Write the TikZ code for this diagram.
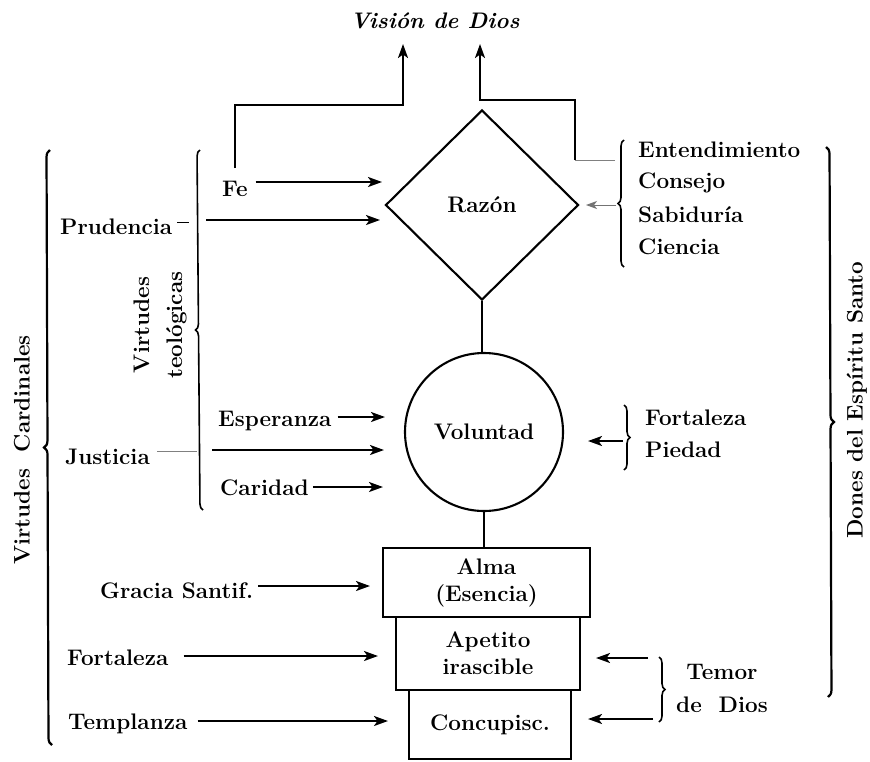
\documentclass[tikz,border=0pt]{standalone}
\usepackage{fontspec}
\usetikzlibrary{shapes.geometric,arrows.meta,decorations.pathreplacing,calc}
\begin{document}
\begin{tikzpicture}[x=1pt,y=-1pt,
  lbl/.style={font=\bfseries\fontsize{22.5}{33}\selectfont, inner sep=0pt, text=black},
  ln/.style={line width=2.1pt},
  arr/.style={line width=2.1pt, -{Stealth[length=14pt,width=10pt,inset=3.5pt]}},
  farr/.style={line width=0.9pt, black!55, -{Stealth[length=11pt,width=8pt,inset=3pt]}},
  faint/.style={line width=0.9pt, black!50},
  brc/.style={decorate, decoration={brace, amplitude=7pt}, line width=2.2pt},
  sbrc/.style={decorate, decoration={brace, amplitude=6pt}, line width=1.6pt},
  shp/.style={draw, line width=2.1pt, inner sep=0pt, font=\bfseries\fontsize{22.5}{27}\selectfont, align=center},
]
\useasboundingbox (0,0) rectangle (870,761);
\fill[white] (0,0) rectangle (870,761);

% title
\node[lbl] (vision) at (435,21) {\itshape Visión de Dios};

% central shapes
\node[shp, diamond, minimum width=193pt, minimum height=190pt] (razon) at (482,205) {Razón};
\node[shp, circle, minimum size=158pt] (vol) at (484,432) {Voluntad};
\node[shp, rectangle, minimum width=207pt, minimum height=69pt] (alma) at (486.5,582.5) {Alma\\(Esencia)};
\node[shp, rectangle, minimum width=184pt, minimum height=73pt] (ape) at (488,653.5) {Apetito\\irascible};
\node[shp, rectangle, minimum width=162pt, minimum height=69pt] (conc) at (490,724.5) {Concupisc.};

\draw[ln] (razon.south) -- (razon.south |- vol.north);
\draw[ln] (vol.south) -- (vol.south |- alma.north);

% top connectors
\coordinate (upL) at (403,44);
\coordinate (upR) at (480,44);
\coordinate (cl1) at (235,168);
\coordinate (cr1) at (615,160);
\coordinate (cr2) at (575,160);
\draw[arr] (cl1) -- (235,105) -- (403,105) -- (upL);
\draw[faint] (cr1) -- (cr2);
\draw[arr] (cr2) -- (575,100) -- (480,100) -- (upR);

% left texts
\node[lbl, anchor=west] (fe) at (222,189) {Fe};
\node[lbl, anchor=west] (pru) at (60,227) {Prudencia};
\node[lbl, anchor=west] (esp) at (218,421) {Esperanza};
\node[lbl, anchor=west] (jus) at (65,457) {Justicia};
\node[lbl, anchor=west] (car) at (220,488) {Caridad};
\node[lbl, anchor=west] (gra) at (100,591) {Gracia Santif.};
\node[lbl, anchor=west] (forl) at (67,658) {Fortaleza};
\node[lbl, anchor=west] (tem) at (68,724) {Templanza};

\node[lbl, rotate=90] (vcard) at (22,450) {Virtudes\ \ Cardinales};
\node[lbl, rotate=90, align=center] (vteo) at (160,325) {Virtudes\\teológicas};

% left braces
\draw[brc] (52,745) -- (50,150);
\draw[sbrc] (203,510) -- (200,150);

% left arrows
\coordinate (feE) at (382,182);
\draw[arr] (fe.east |- feE) ++(8,0) -- (feE);
\coordinate (pruS) at (206,220);
\coordinate (pruE) at (380,220);
\draw[line width=1pt] (pru.east |- pruE) ++(5,2) -- ++(12,0);
\draw[arr] (pruS) -- (pruE);
\coordinate (espE) at (385,417);
\draw[arr] (esp.east |- espE) ++(6,0) -- (espE);
\coordinate (jusS) at (212,450);
\coordinate (jusE) at (384,450);
\draw[faint] (jus.east |- jusE) ++(7,1) -- ++(40,0);
\draw[arr] (jusS) -- (jusE);
\coordinate (carE) at (383,487);
\draw[arr] (car.east |- carE) ++(4,0) -- (carE);
\coordinate (graE) at (370,586);
\draw[arr] (gra.east |- graE) ++(5,0) -- (graE);
\coordinate (forlE) at (378,656);
\draw[arr] (forl.east |- forlE) ++(15,0) -- (forlE);
\coordinate (temE) at (388,721);
\draw[arr] (tem.east |- temE) ++(10,0) -- (temE);

% right texts
\node[lbl, anchor=west] (ent) at (638,150) {Entendimiento};
\node[lbl, anchor=west] (cons) at (638,183) {Consejo};
\node[lbl, anchor=west] (sab) at (638,215) {Sabiduría};
\node[lbl, anchor=west] (cie) at (638,247) {Ciencia};
\node[lbl, anchor=west] (forr) at (645,418) {Fortaleza};
\node[lbl, anchor=west] (pie) at (645,450) {Piedad};
\node[lbl, align=center] (temor) at (722,688) {Temor\\de\ \ Dios};
\node[lbl, rotate=90] (dones) at (857,400) {Dones\ del\ Espíritu\ Santo};

% right braces
\draw[sbrc] (624,267) -- (624,140);
\draw[sbrc] (624,405) -- (624,470);
\draw[sbrc] (659,657) -- (659,722);
\draw[brc] (826,147) -- (828,697);

% right arrows
\coordinate (rzS) at (616,205);
\coordinate (rzE) at (586,205);
\draw[farr] (rzS) -- (rzE);
\coordinate (fpS) at (623,441);
\coordinate (fpE) at (588,441);
\draw[arr] (fpS) -- (fpE);
\coordinate (t1S) at (648,658);
\coordinate (t1E) at (596,658);
\draw[arr] (t1S) -- (t1E);
\coordinate (t2S) at (653,719);
\coordinate (t2E) at (588,719);
\draw[arr] (t2S) -- (t2E);
\end{tikzpicture}
\end{document}
